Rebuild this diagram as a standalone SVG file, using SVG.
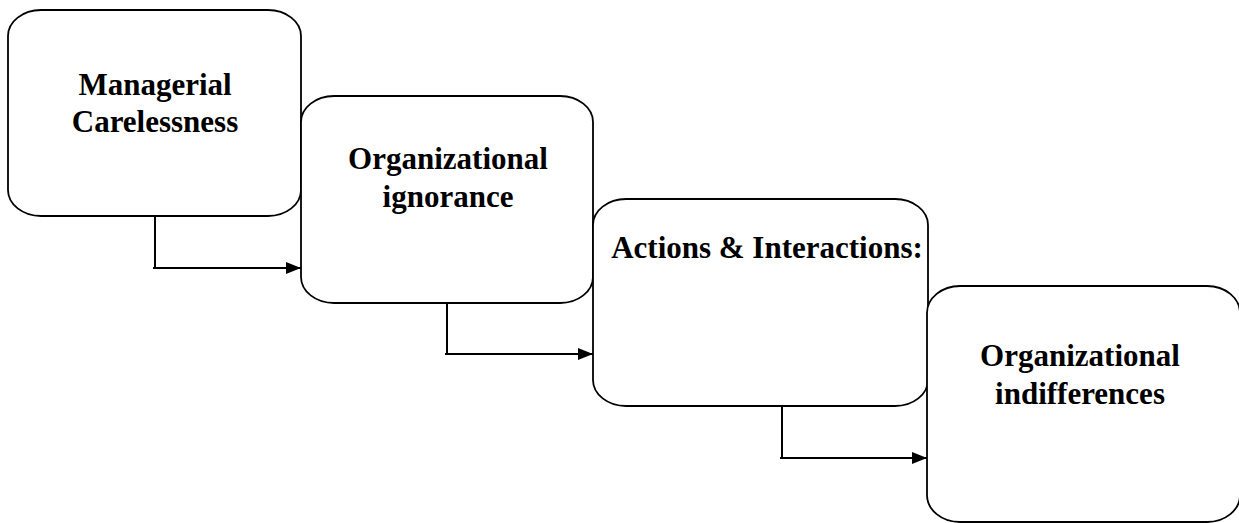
<svg xmlns="http://www.w3.org/2000/svg" width="1239" height="523" viewBox="0 0 1239 523">
  <style>
    .box { fill: #ffffff; stroke: #000000; stroke-width: 1.8; }
    .label { font-family: "Liberation Serif", "Times New Roman", serif; font-weight: bold; font-size: 31px; fill: #000000; text-anchor: middle; }
    .link { fill: none; stroke: #000000; stroke-width: 2; }
  </style>
  <defs>
    <marker id="arrow" markerUnits="userSpaceOnUse" markerWidth="15" markerHeight="12" refX="15" refY="6" orient="auto">
      <path d="M0,0 L15,6 L0,12 Z" fill="#000000"/>
    </marker>
  </defs>

  <g id="managerial-carelessness">
    <rect class="box" x="8" y="10" width="293" height="206" rx="33" ry="26"/>
    <text class="label" x="155" y="95">Managerial</text>
    <text class="label" x="155" y="132">Carelessness</text>
  </g>

  <g id="organizational-ignorance">
    <rect class="box" x="301" y="96" width="292" height="207" rx="33" ry="26"/>
    <text class="label" x="448" y="169">Organizational</text>
    <text class="label" x="448" y="207">ignorance</text>
  </g>

  <g id="actions-interactions">
    <rect class="box" x="593" y="199" width="335" height="207" rx="33" ry="26"/>
    <text class="label" x="767" y="258">Actions &amp; Interactions:</text>
  </g>

  <g id="organizational-indifferences">
    <rect class="box" x="927" y="286" width="313" height="236" rx="33" ry="27"/>
    <text class="label" x="1080" y="366">Organizational</text>
    <text class="label" x="1080" y="404">indifferences</text>
  </g>

  <g id="connectors">
    <path class="link" d="M155,216 V268 M153,268 H301" marker-end="url(#arrow)"/>
    <path class="link" d="M447,303 V354 M445,354 H593" marker-end="url(#arrow)"/>
    <path class="link" d="M782,406 V458 M780,458 H927" marker-end="url(#arrow)"/>
  </g>
</svg>
